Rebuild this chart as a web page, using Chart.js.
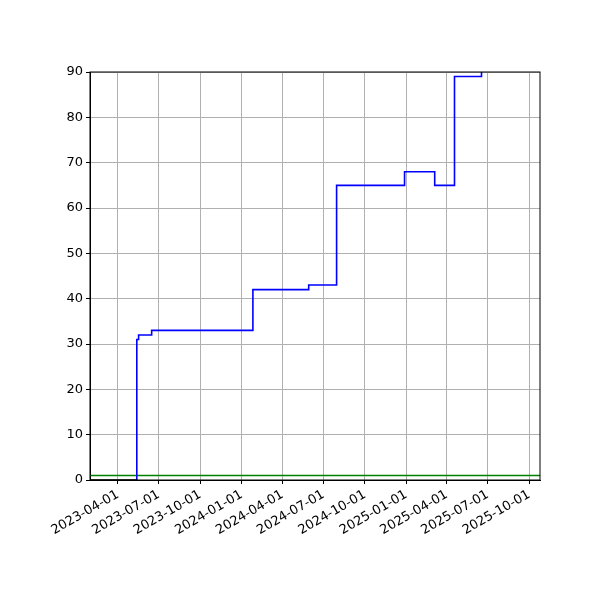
<!DOCTYPE html>
<html><head><script src="https://cdn.jsdelivr.net/npm/chart.js@4"></script>
<style>body{margin:0}#w{width:600px;height:600px}</style></head>
<body><div id="w"><canvas id="c"></canvas></div>
<script>
const blueDates=["2023-05-13","2023-05-13","2023-05-17","2023-06-15","2024-01-26","2024-05-29","2024-07-30","2024-12-28","2025-03-05","2025-04-18","2025-06-17"];
const blueValues=[0,31,32,33,42,43,65,68,65,89,90];
const blackDates=["2023-01-29","2023-05-13"];
const blackValues=[0,0];
const greenDates=["2023-01-29","2025-10-25"];
const greenValues=[1,1];
const tickDates=["2023-04-01","2023-07-01","2023-10-01","2024-01-01","2024-04-01","2024-07-01","2024-10-01","2025-01-01","2025-04-01","2025-07-01","2025-10-01"];
const yTicks=[0,10,20,30,40,50,60,70,80,90];
const t=s=>Date.parse(s+"T00:00:00Z");
const pts=(d,v)=>d.map((x,i)=>({x:t(x),y:v[i]}));
const font={family:"DejaVu Sans",size:13};
new Chart(document.getElementById('c'),{type:'line',
data:{datasets:[
{data:pts(blackDates,blackValues),borderColor:'#000',borderWidth:1.6,pointRadius:0},
{data:pts(blueDates,blueValues),borderColor:'#0000ff',borderWidth:1.6,pointRadius:0,stepped:'before'},
{data:pts(greenDates,greenValues),borderColor:'#008000',borderWidth:1.6,pointRadius:0}]},
options:{animation:false,responsive:true,maintainAspectRatio:false,
layout:{padding:{top:72,right:60,left:0,bottom:0}},
plugins:{legend:{display:false},tooltip:{enabled:false}},
scales:{
x:{type:'linear',min:t("2023-01-29"),max:t("2025-10-25"),
afterBuildTicks:a=>{a.ticks=tickDates.map(d=>({value:t(d)}));},
afterFit:a=>{a.height=120;},
grid:{color:'#b0b0b0',tickColor:'#000',drawTicks:true,tickLength:4},border:{color:'#000'},
ticks:{color:'#000',font,minRotation:30,maxRotation:30,autoSkip:false,
callback:v=>new Date(v).toISOString().slice(0,10)}},
y:{min:0,max:90,afterBuildTicks:a=>{a.ticks=yTicks.map(v=>({value:v}));},
afterFit:a=>{a.width=90;},
grid:{color:'#b0b0b0',tickColor:'#000',tickLength:4},border:{color:'#000'},
ticks:{color:'#000',font}}}},
plugins:[{id:'box',afterDraw(c){const a=c.chartArea,x=c.ctx;x.save();x.strokeStyle='#000';x.lineWidth=1;x.strokeRect(a.left,a.top,a.right-a.left,a.bottom-a.top);x.restore();}}]
});
</script></body></html>
